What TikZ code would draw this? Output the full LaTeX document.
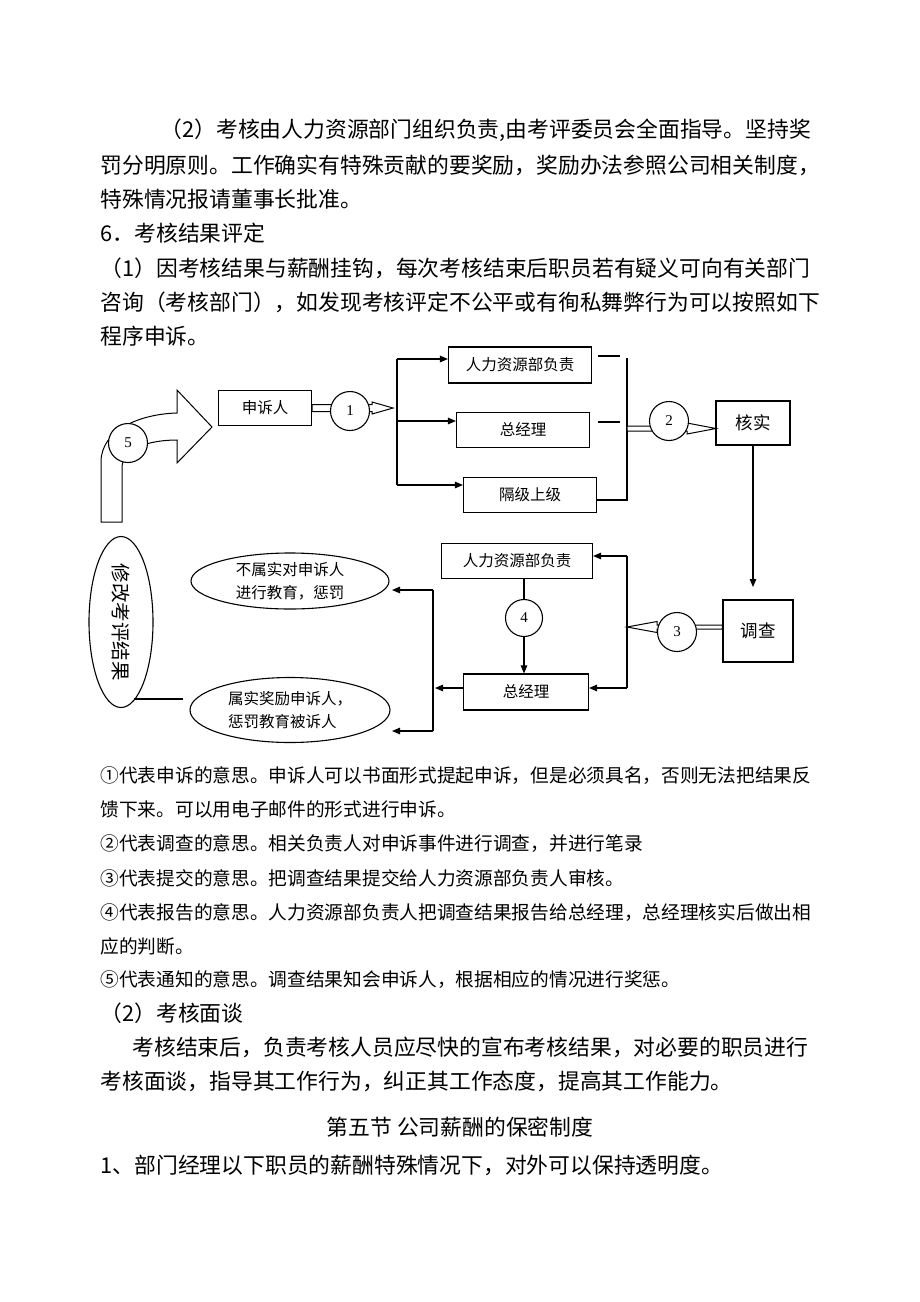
\documentclass[tikz,border=0pt]{standalone}
\usepackage{fontspec}
\setmainfont{Liberation Serif}
\newfontfamily\cjk{Noto Sans CJK SC}
\usetikzlibrary{arrows.meta,shapes.geometric}

\begin{document}
\begin{tikzpicture}[x=1pt,y=-1pt, line width=1.1pt,
   txt/.style={anchor=west,inner sep=0pt,font=\cjk\fontsize{21.8}{26}\selectfont},
   note/.style={anchor=west,inner sep=0pt,font=\cjk\fontsize{18.7}{22}\selectfont},
   box/.style={draw,inner sep=0pt,font=\cjk\fontsize{15.5}{18}\selectfont},
   num/.style={draw,circle,fill=white,inner sep=0pt,minimum size=39pt,font=\fontsize{15}{18}\selectfont},
   oval/.style={draw,ellipse,inner sep=0pt,align=left,font=\cjk\fontsize{15.5}{23}\selectfont},
   hollow/.style={draw,fill=white,line width=1pt},
   >={Triangle[length=8pt,width=6.5pt]}]

\fill[white] (0,0) rectangle (920,1302);
\useasboundingbox (0,0) rectangle (920,1302);

           \node[txt] at (160,130) (p1) {（2）考核由人力资源部门组织负责,由考评委员会全面指导。坚持奖};
           \node[txt] at (100,165) (p2) {罚分明原则。工作确实有特殊贡献的要奖励，奖励办法参照公司相关制度，};
           \node[txt] at (100,199) (p3) {特殊情况报请董事长批准。};
           \node[txt] at (100,233) (p4) {6．考核结果评定};
           \node[txt] at (100,268) (p5) {（1）因考核结果与薪酬挂钩，每次考核结束后职员若有疑义可向有关部门};
           \node[txt] at (100,302) (p6) {咨询（考核部门），如发现考核评定不公平或有徇私舞弊行为可以按照如下};
           \node[txt] at (100,336) (p7) {程序申诉。};
%
                 \node [box, minimum width=93pt, minimum height=35pt] at (265,408) (sq) {申诉人};
              \node [box, minimum width=143pt, minimum height=36pt] at (520,365) (hr1) {人力资源部负责};
                   \node [box, minimum width=133pt, minimum height=35pt] at (523,430) (gm1) {总经理};
                       \node [box, minimum width=133pt, minimum height=35pt] at (530,495) (up) {隔级上级};
                        \node [box, minimum width=74pt, minimum height=44pt, font=\cjk\fontsize{17.5}{20}\selectfont] at (753,423) (hx) {核实};
                        \node [box, minimum width=70pt, minimum height=62pt, font=\cjk\fontsize{17.5}{20}\selectfont] at (758,631) (dc) {调查};
                          \node [box, minimum width=151pt, minimum height=35pt] at (517,561) (hr2) {人力资源部负责};
                           \node [box, minimum width=125pt, minimum height=36pt] at (526,692) (gm2) {总经理};
                           \node [oval, minimum width=198pt, minimum height=56pt] at (290,581) (no) {不属实对申诉人\\进行教育，惩罚};
                           \node [oval, minimum width=200pt, minimum height=65pt] at (290,710) (yes) {属实奖励申诉人，\\惩罚教育被诉人};
                           \node [oval, minimum width=171pt, minimum height=64pt, rotate=-90, font=\cjk\fontsize{19.5}{20}\selectfont] at (121,622) (fix) {修改考评结果};
%
\coordinate (b1) at (397,359);
\coordinate (b2) at (397,421);
\coordinate (b3) at (397,485);
\coordinate (r1) at (627,358);
\coordinate (r2) at (627,500);
\coordinate (j2) at (627,428.5);
\coordinate (s1) at (627,556);
\coordinate (s2) at (627,688);
\coordinate (t1) at (433,590);
\coordinate (t2) at (433,731);
\draw (b1)--(b3);
\draw[->] (b1)--(b1 -| hr1.west);
\draw[->] (b2)--(b2 -| gm1.west);
\draw[->] (b3)--(b3 -| up.west);
\draw (598,356)--(620,356);
\draw (598,422)--(620,422);
\draw (up.east |- r2)--(r2)--(r1);
\draw[->] (hx.south)--(753,587);
\draw (s1)--(s2);
\draw[<-] (hr2.east |- s1)--(s1);
\draw[<-] (gm2.east |- s2)--(s2);
\draw[->] (hr2.south -| 524,0)--(gm2.north -| 524,0);
\draw[->] (gm2.west |- s2)--(435,688);
\draw (t1)--(t2);
\draw[->] (t1)--(392,590);
\draw[->] (t2)--(392,731);
\draw (183,699)--(134,699);
%
% hollow block arrows
\draw[hollow] (sq.east) ++(0,-3.5) -- ++(60,0) -- ++(0,-2.5) -- ++(21,6) -- ++(-21,6) -- ++(0,-2.5) -- ++(-60,0) -- cycle;
\draw[hollow] (j2) ++(0,-2.5) -- ++(60,0) -- ++(0,-3) -- ++(29,5.5) -- ++(-29,5.5) -- ++(0,-3) -- ++(-60,0) -- cycle;
\draw[hollow] (dc.west |- 0,625) -- (657,625) -- (657,621.5) -- (627,627) -- (657,632.5) -- (657,629) -- (dc.west |- 0,629) -- cycle;
\draw[hollow] (101,522) -- (101,462) .. controls (101,430) and (140,414) .. (177,413) -- (177,390) -- (212,427)
      -- (177,463) -- (177,440) .. controls (150,440) and (122,448) .. (122,468) -- (122,522) -- cycle;
%
\node [num] at (350,411) (n1) {1};
\node [num] at (669,421) (n2) {2};
\node [num] at (677,632) (n3) {3};
\node [num, minimum size=37pt] at (524,618) (n4) {4};
\node [num] at (128,443) (n5) {5};
%
           \node[note] at (100,776) (f1) {①代表申诉的意思。申诉人可以书面形式提起申诉，但是必须具名，否则无法把结果反};
           \node[note] at (100,809) (f2) {馈下来。可以用电子邮件的形式进行申诉。};
           \node[note] at (100,844) (f3) {②代表调查的意思。相关负责人对申诉事件进行调查，并进行笔录};
           \node[note] at (100,878) (f4) {③代表提交的意思。把调查结果提交给人力资源部负责人审核。};
           \node[note] at (100,913) (f5) {④代表报告的意思。人力资源部负责人把调查结果报告给总经理，总经理核实后做出相};
           \node[note] at (100,946) (f6) {应的判断。};
           \node[note] at (100,980) (f7) {⑤代表通知的意思。调查结果知会申诉人，根据相应的情况进行奖惩。};
%
           \node[txt] at (100,1013) (q1) {（2）考核面谈};
           \node[txt] at (132,1047) (q2) {考核结束后，负责考核人员应尽快的宣布考核结果，对必要的职员进行};
           \node[txt] at (100,1081) (q3) {考核面谈，指导其工作行为，纠正其工作态度，提高其工作能力。};
           \node[txt, anchor=center] at (460,1127) (q4) {第五节 公司薪酬的保密制度};
           \node[txt] at (100,1165) (q5) {1、部门经理以下职员的薪酬特殊情况下，对外可以保持透明度。};
\end{tikzpicture}
\end{document}
